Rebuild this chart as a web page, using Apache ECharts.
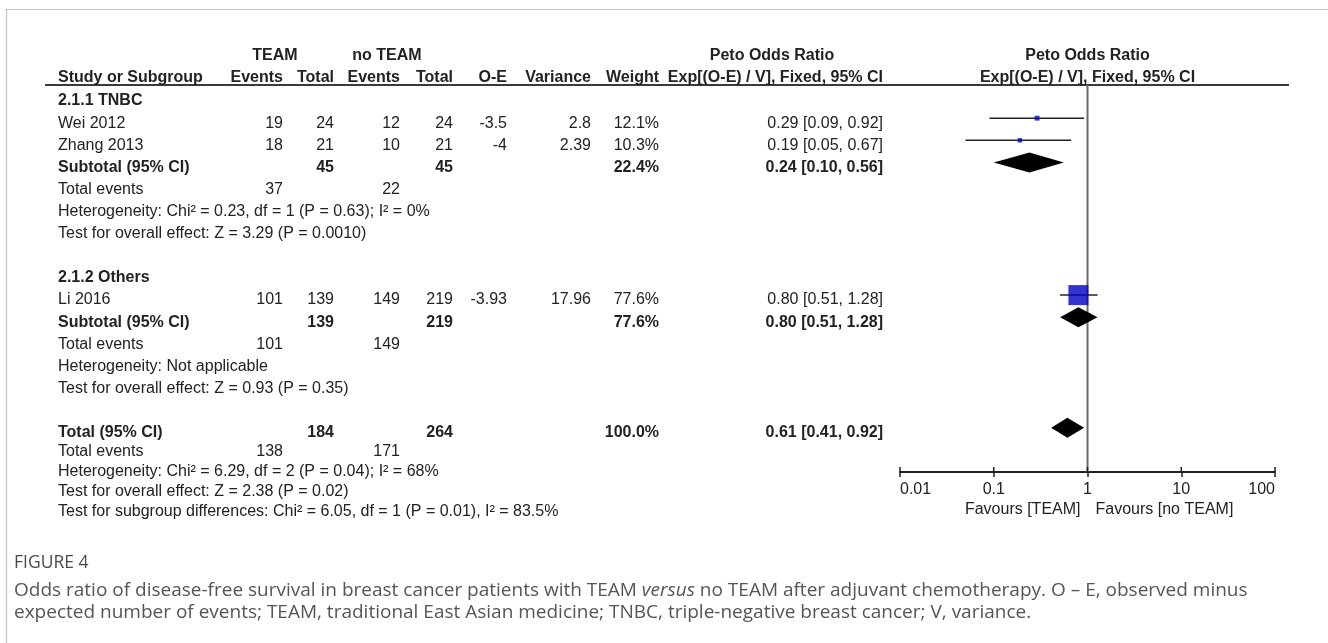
<!DOCTYPE html>
<html>
<head>
<meta charset="utf-8">
<script src="https://cdn.jsdelivr.net/npm/echarts@6/dist/echarts.min.js"></script>
<style>
  html, body { margin: 0; padding: 0; background: #fff; }
  #chart { width: 1328px; height: 643px; }
</style>
</head>
<body>
<div id="chart"></div>
<script>
// ---- Individual studies ----
const studies      = ['Wei 2012', 'Zhang 2013', 'Li 2016'];
const studyGroup   = [0, 0, 1];
const teamEvents   = [19, 18, 101];
const teamTotal    = [24, 21, 139];
const ctrlEvents   = [12, 10, 149];
const ctrlTotal    = [24, 21, 219];
const oMinusE      = ['-3.5', '-4', '-3.93'];
const varianceVals = ['2.8', '2.39', '17.96'];
const studyWeight  = [12.1, 10.3, 77.6];
const studyOR      = [0.29, 0.19, 0.80];
const studyLow     = [0.09, 0.05, 0.51];
const studyHigh    = [0.92, 0.67, 1.28];

// ---- Subgroups ----
const subgroups        = ['2.1.1 TNBC', '2.1.2 Others'];
const subTeamTotal     = [45, 139];
const subCtrlTotal     = [45, 219];
const subTeamEvents    = [37, 101];
const subCtrlEvents    = [22, 149];
const subWeight        = [22.4, 77.6];
const subOR            = [0.24, 0.80];
const subLow           = [0.10, 0.51];
const subHigh          = [0.56, 1.28];
const subHeterogeneity = ['Heterogeneity: Chi\u00b2 = 0.23, df = 1 (P = 0.63); I\u00b2 = 0%', 'Heterogeneity: Not applicable'];
const subOverall       = ['Test for overall effect: Z = 3.29 (P = 0.0010)', 'Test for overall effect: Z = 0.93 (P = 0.35)'];

// ---- Pooled result ----
const totalTotals  = [184, 264];
const totalEvents  = [138, 171];
const totalWeight  = 100.0;
const totalEst     = [0.61, 0.41, 0.92];
const totalNotes   = [
  'Heterogeneity: Chi\u00b2 = 6.29, df = 2 (P = 0.04); I\u00b2 = 68%',
  'Test for overall effect: Z = 2.38 (P = 0.02)',
  'Test for subgroup differences: Chi\u00b2 = 6.05, df = 1 (P = 0.01), I\u00b2 = 83.5%'
];

// ---- Axis ----
const tickValues = [0.01, 0.1, 1, 10, 100];
const favourLabels = ['Favours [TEAM]', 'Favours [no TEAM]'];

// ---- Layout helpers ----
const FONT = '"Liberation Sans", Arial, sans-serif';
const INK = '#222';
const COLS = {
  name: { x: 58,  align: 'left'  },
  te:   { x: 283, align: 'right' },
  tt:   { x: 334, align: 'right' },
  ce:   { x: 400, align: 'right' },
  ct:   { x: 453, align: 'right' },
  oe:   { x: 507, align: 'right' },
  v:    { x: 591, align: 'right' },
  w:    { x: 659, align: 'right' },
  or:   { x: 883, align: 'right' }
};
const fmtCI = (e, l, h) => e.toFixed(2) + ' [' + l.toFixed(2) + ', ' + h.toFixed(2) + ']';

// Build table rows (row index -> cells) plus marker lists
const rows = [];
const squares = [];   // [or, row, weight]
const ciLines = [];   // [low, high, row]
const diamonds = [];  // [est, low, high, row]
let r = 0;
subgroups.forEach((g, gi) => {
  rows.push({ r: r++, cells: [['name', g, true]] });
  studies.forEach((s, i) => {
    if (studyGroup[i] !== gi) return;
    rows.push({ r: r, cells: [
      ['name', s], ['te', String(teamEvents[i])], ['tt', String(teamTotal[i])],
      ['ce', String(ctrlEvents[i])], ['ct', String(ctrlTotal[i])], ['oe', oMinusE[i]],
      ['v', varianceVals[i]], ['w', studyWeight[i].toFixed(1) + '%'],
      ['or', fmtCI(studyOR[i], studyLow[i], studyHigh[i])]
    ]});
    ciLines.push([studyLow[i], studyHigh[i], r]);
    squares.push([studyOR[i], r, studyWeight[i]]);
    r++;
  });
  rows.push({ r: r, cells: [
    ['name', 'Subtotal (95% CI)', true], ['tt', String(subTeamTotal[gi]), true],
    ['ct', String(subCtrlTotal[gi]), true], ['w', subWeight[gi].toFixed(1) + '%', true],
    ['or', fmtCI(subOR[gi], subLow[gi], subHigh[gi]), true]
  ]});
  diamonds.push([subOR[gi], subLow[gi], subHigh[gi], r]);
  r++;
  rows.push({ r: r++, cells: [['name', 'Total events'], ['te', String(subTeamEvents[gi])], ['ce', String(subCtrlEvents[gi])]] });
  rows.push({ r: r++, cells: [['name', subHeterogeneity[gi]]] });
  rows.push({ r: r++, cells: [['name', subOverall[gi]]] });
  r++; // blank spacer row
});
rows.push({ r: r, cells: [
  ['name', 'Total (95% CI)', true], ['tt', String(totalTotals[0]), true],
  ['ct', String(totalTotals[1]), true], ['w', totalWeight.toFixed(1) + '%', true],
  ['or', fmtCI(totalEst[0], totalEst[1], totalEst[2]), true]
]});
diamonds.push([totalEst[0], totalEst[1], totalEst[2], r]);
const totalRow = r;
r++;
// the closing summary block sits a little tighter than the body rows
const footRows = [];
footRows.push([['name', 'Total events'], ['te', String(totalEvents[0])], ['ce', String(totalEvents[1])]]);
totalNotes.forEach(t => footRows.push([['name', t]]));

const Y_MIN = -0.5, Y_MAX = 17;
const DIAMOND_HALF = 10;
const squareSize = w => 2 + 18 * (w / 77.6);

const chart = echarts.init(document.getElementById('chart'), null, { renderer: 'canvas' });

chart.setOption({
  backgroundColor: '#fff',
  animation: false,
  grid: [{ left: 900, top: 85, width: 375, height: 387, containLabel: false }],
  xAxis: [{
    type: 'log', logBase: 10, min: 0.01, max: 100, gridIndex: 0, position: 'bottom',
    axisLine: { show: true, onZero: false, lineStyle: { color: INK, width: 2 } },
    axisTick: { show: true, length: 5, lineStyle: { color: INK, width: 1.5 } },
    splitLine: { show: false },
    axisLabel: {
      show: true, margin: 10, color: INK, fontFamily: FONT, fontSize: 16,
      showMinLabel: true, showMaxLabel: true,
      alignMinLabel: 'left', alignMaxLabel: 'right',
      formatter: v => String(+(+v).toPrecision(3))
    }
  }],
  yAxis: [{
    type: 'value', inverse: true, min: Y_MIN, max: Y_MAX, gridIndex: 0, show: false
  }],
  series: [
    { // line of no effect
      type: 'custom', xAxisIndex: 0, yAxisIndex: 0, clip: false, silent: true,
      data: [[1]],
      renderItem: (params, api) => {
        const a = api.coord([api.value(0), Y_MIN]);
        const b = api.coord([api.value(0), Y_MAX]);
        return { type: 'line', shape: { x1: a[0], y1: a[1], x2: b[0], y2: b[1] },
                 style: { stroke: '#6b6b6b', lineWidth: 2 } };
      }
    },
    { // upper halves of axis ticks
      type: 'custom', xAxisIndex: 0, yAxisIndex: 0, clip: false, silent: true,
      data: tickValues.map(v => [v]),
      renderItem: (params, api) => {
        const p = api.coord([api.value(0), Y_MAX]);
        return { type: 'line', shape: { x1: p[0], y1: p[1], x2: p[0], y2: p[1] - 5 },
                 style: { stroke: INK, lineWidth: 1.5 } };
      }
    },
    { // confidence intervals
      type: 'custom', xAxisIndex: 0, yAxisIndex: 0, clip: false, silent: true,
      data: ciLines,
      renderItem: (params, api) => {
        const a = api.coord([api.value(0), api.value(2)]);
        const b = api.coord([api.value(1), api.value(2)]);
        return { type: 'line', shape: { x1: a[0], y1: a[1], x2: b[0], y2: b[1] },
                 style: { stroke: INK, lineWidth: 1.5 } };
      }
    },
    { // study estimates (weighted squares)
      type: 'scatter', xAxisIndex: 0, yAxisIndex: 0, silent: true,
      symbol: 'rect', symbolSize: v => squareSize(v[2]),
      itemStyle: { color: '#0000c4' },
      data: squares
    },
    { // pooled estimates (diamonds)
      type: 'custom', xAxisIndex: 0, yAxisIndex: 0, clip: false, silent: true,
      data: diamonds,
      renderItem: (params, api) => {
        const row = api.value(3);
        const c = api.coord([api.value(0), row]);
        const l = api.coord([api.value(1), row]);
        const h = api.coord([api.value(2), row]);
        return { type: 'polygon',
                 shape: { points: [[l[0], c[1]], [c[0], c[1] - DIAMOND_HALF], [h[0], c[1]], [c[0], c[1] + DIAMOND_HALF]] },
                 style: { fill: '#000' } };
      }
    }
  ]
});

// ---- Text table and annotations, placed on the same row scale ----
const rowY = i => chart.convertToPixel({ yAxisIndex: 0 }, i);
const xAt = v => chart.convertToPixel({ xAxisIndex: 0 }, v);

function txt(x, y, text, opts) {
  opts = opts || {};
  return {
    type: 'text', x: x, y: y, silent: true,
    style: {
      text: text, fill: opts.fill || INK,
      font: (opts.bold ? 'bold ' : '') + (opts.size || 16) + 'px ' + (opts.family || FONT),
      align: opts.align || 'left', verticalAlign: opts.valign || 'middle'
    }
  };
}

const g = [];
// frame
g.push({ type: 'line', silent: true, shape: { x1: 6, y1: 9.5, x2: 1328, y2: 9.5 }, style: { stroke: '#c4c4c4', lineWidth: 1.2 } });
g.push({ type: 'line', silent: true, shape: { x1: 6.5, y1: 9, x2: 6.5, y2: 643 }, style: { stroke: '#c4c4c4', lineWidth: 1.2 } });
// header rule
g.push({ type: 'line', silent: true, shape: { x1: 45, y1: 85, x2: 1289, y2: 85 }, style: { stroke: '#3a3a3a', lineWidth: 2 } });

// headers
const H1 = 56, H2 = 77.5;
const midOne = xAt(1);
g.push(txt(275, H1, 'TEAM', { bold: true, align: 'center' }));
g.push(txt(387, H1, 'no TEAM', { bold: true, align: 'center' }));
g.push(txt(772, H1, 'Peto Odds Ratio', { bold: true, align: 'center' }));
g.push(txt(midOne, H1, 'Peto Odds Ratio', { bold: true, align: 'center' }));
g.push(txt(COLS.name.x, H2, 'Study or Subgroup', { bold: true }));
g.push(txt(COLS.te.x, H2, 'Events', { bold: true, align: 'right' }));
g.push(txt(COLS.tt.x, H2, 'Total', { bold: true, align: 'right' }));
g.push(txt(COLS.ce.x, H2, 'Events', { bold: true, align: 'right' }));
g.push(txt(COLS.ct.x, H2, 'Total', { bold: true, align: 'right' }));
g.push(txt(COLS.oe.x, H2, 'O-E', { bold: true, align: 'right' }));
g.push(txt(COLS.v.x, H2, 'Variance', { bold: true, align: 'right' }));
g.push(txt(COLS.w.x, H2, 'Weight', { bold: true, align: 'right' }));
g.push(txt(COLS.or.x, H2, 'Exp[(O-E) / V], Fixed, 95% CI', { bold: true, align: 'right' }));
g.push(txt(midOne, H2, 'Exp[(O-E) / V], Fixed, 95% CI', { bold: true, align: 'center' }));

// body rows
rows.forEach(row => {
  const y = rowY(row.r) + 5;
  row.cells.forEach(([col, text, bold]) => {
    g.push(txt(COLS[col].x, y, text, { bold: !!bold, align: COLS[col].align }));
  });
});
// closing summary block
const footTop = rowY(totalRow) + 5 + 19, footStep = 20;
footRows.forEach((cells, k) => {
  const y = footTop + k * footStep;
  cells.forEach(([col, text]) => {
    g.push(txt(COLS[col].x, y, text, { align: COLS[col].align }));
  });
});

// favours labels under the axis
const favY = rowY(Y_MAX) + 38;
g.push(txt(midOne - 7, favY, favourLabels[0], { align: 'right' }));
g.push(txt(midOne + 8, favY, favourLabels[1], { align: 'left' }));

// figure caption
const CAP = '"Open Sans", "Noto Sans", sans-serif';
const CAP_X = 14, CAP_SIZE = 19;
g.push(txt(CAP_X, 563, 'FIGURE 4', { family: CAP, size: 17.5, fill: '#4a4a4a' }));
g.push({
  type: 'text', x: CAP_X, y: 591, silent: true,
  style: {
    text: '{a|Odds ratio of disease-free survival in breast cancer patients with TEAM }{i|versus}{a| no TEAM after adjuvant chemotherapy. O \u2013 E, observed minus}',
    verticalAlign: 'middle', align: 'left',
    rich: {
      a: { fontFamily: CAP, fontSize: CAP_SIZE, fill: '#555' },
      i: { fontFamily: CAP, fontSize: CAP_SIZE, fontStyle: 'italic', fill: '#555' }
    }
  }
});
g.push(txt(CAP_X, 613, 'expected number of events; TEAM, traditional East Asian medicine; TNBC, triple-negative breast cancer; V, variance.', { family: CAP, size: CAP_SIZE, fill: '#555' }));

chart.setOption({ graphic: { elements: g } });
</script>
</body>
</html>
